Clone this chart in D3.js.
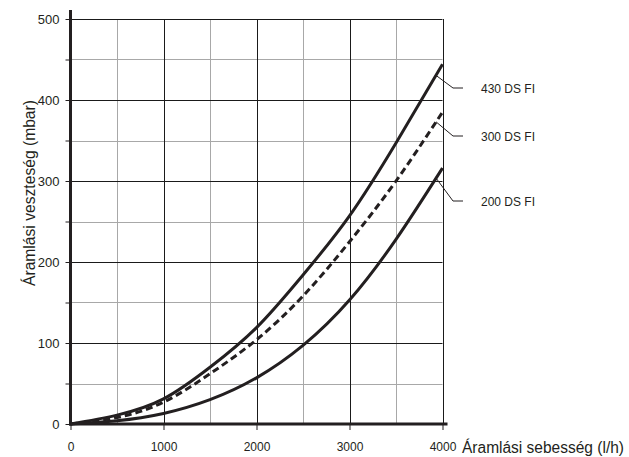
<!DOCTYPE html>
<html>
<head>
<meta charset="utf-8">
<style>
body { margin: 0; background: #fff; }
svg { font-family: "Liberation Sans", Arial, sans-serif; }
.grid-minor line { stroke: #a8a8a8; stroke-width: 1; }
.grid-major line { stroke: #1a1a1a; stroke-width: 1; }
.curve { fill: none; stroke: #231f20; stroke-width: 3; }
.tick text { fill: #231f20; }
</style>
</head>
<body>
<svg width="629" height="457"></svg>
<script src="https://cdn.jsdelivr.net/npm/d3@7"></script>
<script>

// flow rate (l/h)
var flow = [0, 500, 1000, 1500, 2000, 2500, 3000, 3500, 4000];

// pressure loss (mbar)
var loss430 = [0, 11, 31, 70, 119, 184, 257, 347, 444];
var loss300 = [0, 8, 27, 62, 104, 158, 225, 300, 385];
var loss200 = [0, 4, 13, 30, 57, 97, 153, 228, 316];

var seriesNames = ["430 DS FI", "300 DS FI", "200 DS FI"];
var xTicks = [0, 1000, 2000, 3000, 4000];
var yTicks = [0, 100, 200, 300, 400, 500];

var svg = d3.select("svg");

var x = d3.scaleLinear().domain([0, 4000]).range([70.5, 442.5]);
var y = d3.scaleLinear().domain([0, 500]).range([424, 19]);

// grid
var minorX = d3.range(500, 4001, 1000),
    minorY = d3.range(50, 500, 100),
    majorX = [1000, 2000, 3000, 4000],
    majorY = [100, 200, 300, 400, 500];

var minor = svg.append("g").attr("class", "grid-minor");
minor.selectAll("line.v").data(minorX).enter().append("line")
  .attr("x1", function(d) { return Math.round(x(d)) + 0.5; })
  .attr("x2", function(d) { return Math.round(x(d)) + 0.5; })
  .attr("y1", y(500)).attr("y2", y(0));
minor.selectAll("line.h").data(minorY).enter().append("line")
  .attr("y1", function(d) { return Math.round(y(d)) + 0.5; })
  .attr("y2", function(d) { return Math.round(y(d)) + 0.5; })
  .attr("x1", x(0)).attr("x2", x(4000));

var major = svg.append("g").attr("class", "grid-major");
major.selectAll("line.v").data(majorX).enter().append("line")
  .attr("x1", function(d) { return Math.round(x(d)) + 0.5; })
  .attr("x2", function(d) { return Math.round(x(d)) + 0.5; })
  .attr("y1", y(500)).attr("y2", y(0));
major.selectAll("line.h").data(majorY).enter().append("line")
  .attr("y1", function(d) { return Math.round(y(d)) + 0.5; })
  .attr("y2", function(d) { return Math.round(y(d)) + 0.5; })
  .attr("x1", x(0)).attr("x2", x(4000));

// axes
var xAxis = d3.axisBottom(x).tickValues(xTicks).tickSize(6).tickPadding(12)
  .tickFormat(d3.format("d"));
var yAxis = d3.axisLeft(y).tickValues(d3.range(0, 501, 50)).tickSize(5).tickPadding(6)
  .tickFormat(function(d) { return yTicks.indexOf(d) >= 0 ? d : ""; });

var gx = svg.append("g").attr("transform", "translate(0," + y(0) + ")").call(xAxis);
gx.select(".domain").remove();
gx.selectAll(".tick line").attr("stroke", "#231f20");
gx.selectAll(".tick text").style("font-size", "12px");

var gy = svg.append("g").attr("transform", "translate(" + x(0) + ",0)").call(yAxis);
gy.select(".domain").remove();
gy.selectAll(".tick line").attr("stroke", "#231f20");
gy.selectAll(".tick text").style("font-size", "13px");

// thick axis lines
svg.append("line")
  .attr("x1", x(0)).attr("x2", x(0))
  .attr("y1", 10).attr("y2", y(0) + 1.5)
  .attr("stroke", "#231f20").attr("stroke-width", 3);
svg.append("line")
  .attr("x1", x(0) - 1.5).attr("x2", x(4000) + 5)
  .attr("y1", y(0)).attr("y2", y(0))
  .attr("stroke", "#231f20").attr("stroke-width", 3);

// curves
var allSeries = [
  { name: seriesNames[0], values: loss430, dash: null },
  { name: seriesNames[1], values: loss300, dash: "7,4" },
  { name: seriesNames[2], values: loss200, dash: null }
];

var line = d3.line()
  .x(function(d) { return x(d[0]); })
  .y(function(d) { return y(d[1]); })
  .curve(d3.curveNatural);

svg.selectAll("path.curve").data(allSeries).enter().append("path")
  .attr("class", "curve")
  .attr("stroke-dasharray", function(d) { return d.dash; })
  .attr("d", function(d) { return line(d3.zip(flow, d.values)); });

// leader lines and labels
var labelY = [88, 136, 201];
allSeries.forEach(function(s, i) {
  var v0 = s.values[7], v1 = s.values[8];
  var xv = 3930, yv = v0 + (v1 - v0) * (xv - 3500) / 500;
  var x0 = x(xv), y0 = y(yv);
  svg.append("polyline")
    .attr("points", [[x0, y0], [453, labelY[i]], [463, labelY[i]]].join(" "))
    .attr("fill", "none").attr("stroke", "#231f20").attr("stroke-width", 1);
  svg.append("text")
    .attr("x", 481).attr("y", labelY[i]).attr("dy", "0.35em")
    .attr("textLength", 54).attr("lengthAdjust", "spacingAndGlyphs")
    .style("font-size", "13px").attr("fill", "#231f20")
    .text(s.name);
});

// axis titles
svg.append("text")
  .attr("x", 462).attr("y", 453)
  .attr("textLength", 162).attr("lengthAdjust", "spacingAndGlyphs")
  .style("font-size", "16px").attr("fill", "#231f20")
  .text("Áramlási sebesség (l/h)");

svg.append("text")
  .attr("transform", "translate(35,193) rotate(-90)")
  .attr("text-anchor", "middle")
  .attr("textLength", 186).attr("lengthAdjust", "spacingAndGlyphs")
  .style("font-size", "16.5px").attr("fill", "#231f20")
  .text("Áramlási veszteség (mbar)");
</script>
</body>
</html>
